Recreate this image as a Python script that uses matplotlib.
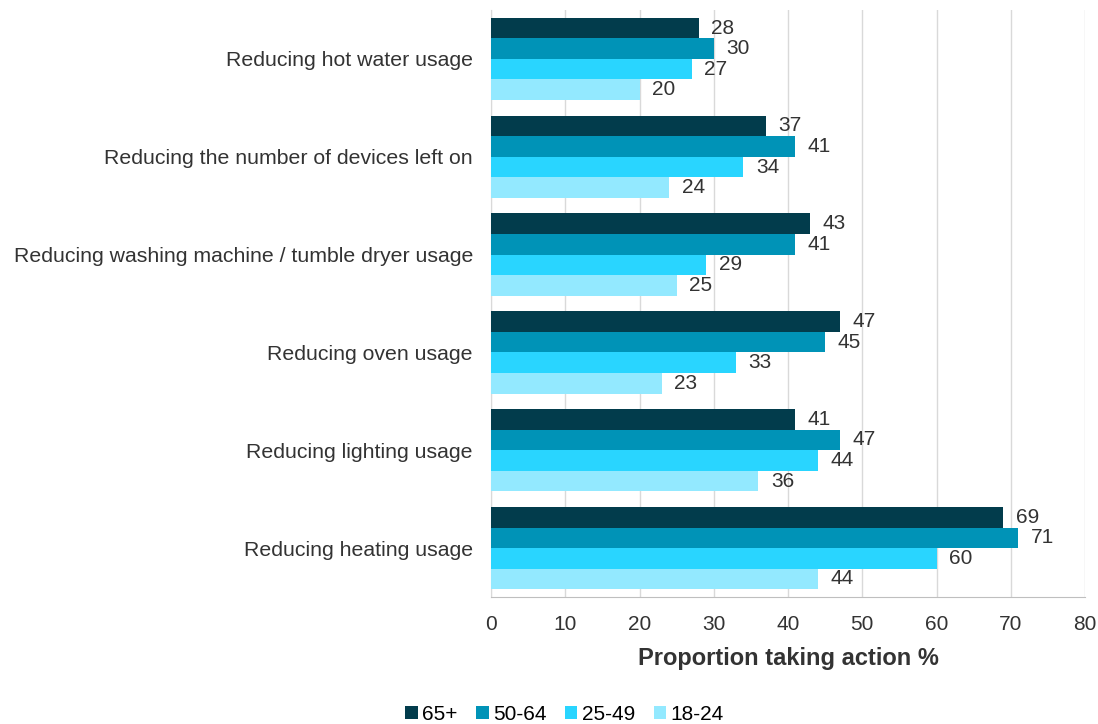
import numpy as np
import matplotlib
matplotlib.use("Agg")
import matplotlib.pyplot as plt

plt.rcParams['font.family'] = ['Liberation Sans', 'DejaVu Sans']

# data
categories = ["Reducing hot water usage",
              "Reducing the number of devices left on",
              "Reducing washing machine / tumble dryer usage",
              "Reducing oven usage",
              "Reducing lighting usage",
              "Reducing heating usage"]
groups = ["65+", "50-64", "25-49", "18-24"]
age_65 = [28, 37, 43, 47, 41, 69]
age_50 = [30, 41, 41, 45, 47, 71]
age_25 = [27, 34, 29, 33, 44, 60]
age_18 = [20, 24, 25, 23, 36, 44]
series = [age_65, age_50, age_25, age_18]
colors = ["#023C4C", "#0093B7", "#29D5FF", "#93E9FF"]

fig = plt.figure(figsize=(10.98, 7.24), dpi=100)
ax = fig.add_axes([0.4472, 0.1754, 0.541, 0.8108])

n = len(categories)
y = np.arange(n)
h = 0.21
txt = "#333333"
for i, (vals, c, g) in enumerate(zip(series, colors, groups)):
    pos = y + (i - 1.5) * h
    bars = ax.barh(pos, vals, height=h, color=c, label=g, zorder=3)
    ax.bar_label(bars, labels=[str(v) for v in vals], padding=9,
                 fontsize=15, color=txt)

ax.set_ylim(n - 0.5, -0.5)
ax.set_xlim(0, 80)
ax.set_xticks(range(0, 81, 10))
ax.set_yticks(y)
ax.set_yticklabels(categories)
ax.tick_params(axis='both', length=0, labelsize=15, colors=txt)
ax.tick_params(axis='y', pad=13, labelsize=15.3)
ax.tick_params(axis='x', pad=13)
ax.grid(axis='x', color="#D9D9D9", linewidth=1, zorder=0)
for s in ["top", "right"]:
    ax.spines[s].set_visible(False)
ax.spines["left"].set_color("#D9D9D9")
ax.spines["bottom"].set_color("#BFBFBF")
ax.set_xlabel("Proportion taking action %", fontsize=17, fontweight='bold',
              color=txt, labelpad=9)

fig.legend(loc="lower center", bbox_to_anchor=(0.514, -0.026), ncol=4,
           frameon=False, fontsize=15, handlelength=0.6, handleheight=0.6,
           handletextpad=0.2, columnspacing=0.9)

fig.savefig("out.png", dpi=100)
